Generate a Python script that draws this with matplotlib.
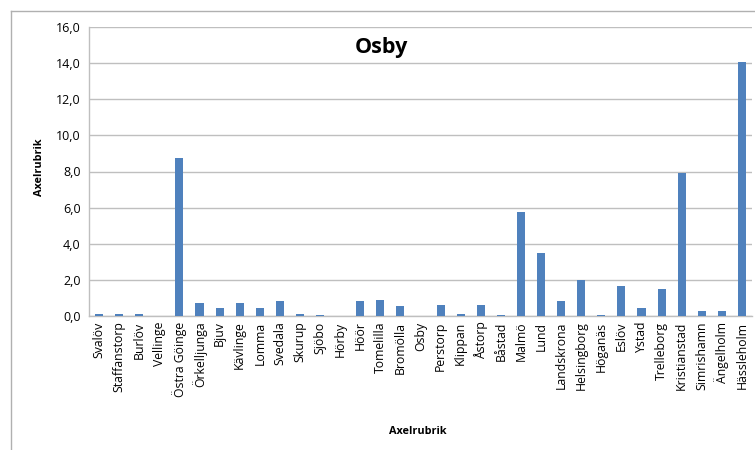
import matplotlib
matplotlib.use("Agg")
import matplotlib.pyplot as plt
from matplotlib.lines import Line2D
from matplotlib.ticker import FuncFormatter, MultipleLocator

categories = ["Svalöv", "Staffanstorp", "Burlöv", "Vellinge", "Östra Göinge", "Örkelljunga",
              "Bjuv", "Kävlinge", "Lomma", "Svedala", "Skurup", "Sjöbo", "Hörby", "Höör",
              "Tomelilla", "Bromölla", "Osby", "Perstorp", "Klippan", "Åstorp", "Båstad",
              "Malmö", "Lund", "Landskrona", "Helsingborg", "Höganäs", "Eslöv", "Ystad",
              "Trelleborg", "Kristianstad", "Simrishamn", "Ängelholm", "Hässleholm"]
values = [0.13, 0.13, 0.13, 0.0, 8.72, 0.72,
          0.46, 0.72, 0.46, 0.81, 0.13, 0.05, 0.0, 0.81,
          0.89, 0.55, 0.0, 0.63, 0.13, 0.63, 0.05,
          5.76, 3.47, 0.81, 1.99, 0.05, 1.64, 0.46,
          1.48, 7.93, 0.28, 0.28, 14.05]
title = "Osby"
x_label = "Axelrubrik"
y_label = "Axelrubrik"

plt.rcParams['font.family'] = ['Open Sans', 'DejaVu Sans']

fig = plt.figure(figsize=(7.55, 4.5), dpi=100)
ax = fig.add_axes([89/755, 1 - 316/450, (752-89)/755, (316-27)/450])

bar_color = "#4f81bd"
grid_color = "#bfbfbf"
ax.bar(range(len(categories)), values, width=0.4, color=bar_color, zorder=3)
ax.set_xlim(-0.5, len(categories) - 0.5)
ax.set_ylim(0, 16)
ax.yaxis.set_major_locator(MultipleLocator(2))
ax.yaxis.set_major_formatter(FuncFormatter(lambda v, p: f"{v:.1f}".replace(".", ",")))
ax.set_xticks(range(len(categories)))
ax.set_xticklabels(categories, rotation=90, fontsize=8.8, color="#000000")
ax.tick_params(axis='y', labelsize=9, length=0, pad=6)
ax.tick_params(axis='x', length=0, pad=4)
ax.grid(axis='y', color=grid_color, linewidth=1, zorder=0)
for s in ["top", "right"]:
    ax.spines[s].set_visible(False)
for s in ["left", "bottom"]:
    ax.spines[s].set_color(grid_color)
    ax.spines[s].set_linewidth(1)

fig.text(381/755, 1 - 47/450, title, ha="center", va="center", fontsize=15.5, fontweight="bold")
fig.text(418/755, 1 - 432/450, x_label, ha="center", va="center", fontsize=7.8, fontweight="bold")
fig.text(39/755, 1 - 167/450, y_label, ha="center", va="center", rotation=90, fontsize=7.8, fontweight="bold")

# outer chart frame
frame_color = "#b0b0b0"
fig.add_artist(Line2D([10.5/755, 10.5/755], [0, 1 - 10.5/450], transform=fig.transFigure, color=frame_color, linewidth=1))
fig.add_artist(Line2D([10.5/755, 1], [1 - 10.5/450, 1 - 10.5/450], transform=fig.transFigure, color=frame_color, linewidth=1))

fig.savefig("out.png", dpi=100)
